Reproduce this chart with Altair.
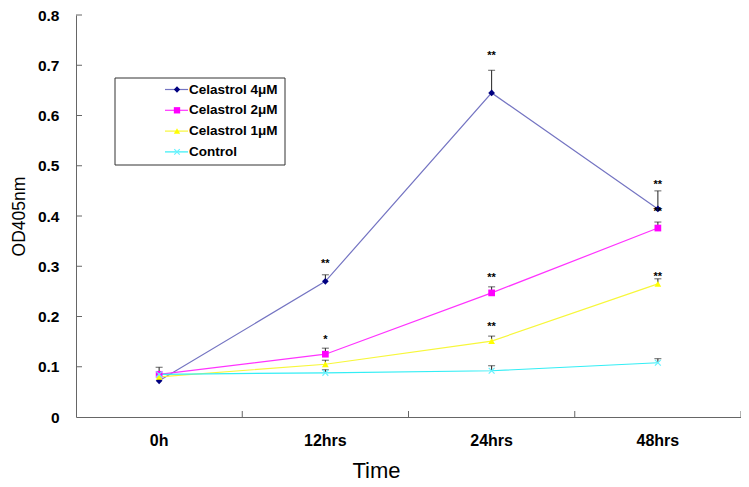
import altair as alt
import pandas as pd

times = ["0h", "12hrs", "24hrs", "48hrs"]
series = ["Celastrol 4μM", "Celastrol 2μM", "Celastrol 1μM", "Control"]

c4_val = [0.072, 0.270, 0.645, 0.414]
c4_err = [0.0, 0.013, 0.045, 0.036]
c2_val = [0.085, 0.125, 0.247, 0.376]
c2_err = [0.0, 0.012, 0.012, 0.012]
c1_val = [0.080, 0.105, 0.151, 0.265]
c1_err = [0.0, 0.008, 0.010, 0.010]
ct_val = [0.085, 0.088, 0.092, 0.108]
ct_err = [0.014, 0.006, 0.010, 0.008]

sig_time = ["12hrs", "24hrs", "48hrs", "12hrs", "24hrs", "48hrs", "24hrs", "48hrs"]
sig_y = [0.311, 0.724, 0.468, 0.159, 0.282, 0.413, 0.185, 0.284]
sig_txt = ["**", "**", "**", "*", "**", "**", "**", "**"]

y_ticks = [0, 0.1, 0.2, 0.3, 0.4, 0.5, 0.6, 0.7, 0.8]

line_colors = ["#7474c2", "#ff33ff", "#f7f73a", "#33eef5"]
marker_colors = ["#000080", "#ff00ff", "#ffff00", "#66f2ff"]
x_path = "M-1,-0.75L-0.75,-1L0,-0.25L0.75,-1L1,-0.75L0.25,0L1,0.75L0.75,1L0,0.25L-0.75,1L-1,0.75L-0.25,0Z"
shapes = ["diamond", "square", "triangle-up", x_path]

vals = [c4_val, c2_val, c1_val, ct_val]
errs = [c4_err, c2_err, c1_err, ct_err]
rows = []
for s, vs, es in zip(series, vals, errs):
    for t, v, e in zip(times, vs, es):
        rows.append({"time": t, "series": s, "value": v, "err": e, "hi": v + e})
df = pd.DataFrame(rows)
err_df = df[df["err"] > 0]
sig_df = pd.DataFrame({"time": sig_time, "y": sig_y, "txt": sig_txt})
leg_df = pd.DataFrame({"series": series, "row": list(range(len(series)))})
ytick_df = pd.DataFrame({"tick": y_ticks[1:]})
xtick_df = pd.DataFrame({"time": times})

W, H = 665, 402

x_axis = alt.Axis(labelAngle=0, ticks=False, grid=False, domainColor="#666666",
                  labelFontSize=16, labelFontWeight="bold", labelColor="#000000",
                  labelPadding=15, titleFontSize=22, titleFontWeight="normal",
                  titleColor="#000000", titleX=300, titleY=43, titleBaseline="top")
y_axis = alt.Axis(values=y_ticks, format=".1~f", ticks=False, grid=False,
                  domainColor="#666666", labelFontSize=15.5, labelFontWeight="bold",
                  labelColor="#000000", labelPadding=17, titleFontSize=17.5,
                  titleFontWeight="normal", titleColor="#000000", titlePadding=9)
x_scale = alt.Scale(type="band", domain=times, paddingInner=0, paddingOuter=0)
y_scale = alt.Scale(domain=[0, 0.8], nice=False)


def X(field="time:N", bp=0.5):
    return alt.X(field, scale=x_scale, axis=x_axis, title="Time", bandPosition=bp, sort=times)


def Y(field):
    return alt.Y(field, scale=y_scale, axis=y_axis, title="OD405nm")


stroke_enc = alt.Stroke("series:N", scale=alt.Scale(domain=series, range=line_colors), legend=None)
fill_enc = alt.Fill("series:N", scale=alt.Scale(domain=series, range=marker_colors), legend=None)
shape_enc = alt.Shape("series:N", scale=alt.Scale(domain=series, range=shapes), legend=None)

base = alt.Chart(df)

lines = base.transform_calculate(idx="indexof(['0h','12hrs','24hrs','48hrs'], datum.time)").mark_line(
    strokeWidth=1.2).encode(x=X(), y=Y("value:Q"), stroke=stroke_enc, order=alt.Order("idx:Q"))

err_rule = alt.Chart(err_df).mark_rule(color="#222222", strokeWidth=1).encode(
    x=X(), y=Y("value:Q"), y2="hi:Q")
err_cap = alt.Chart(err_df).mark_tick(color="#222222", thickness=1, size=7).encode(
    x=X(), y=Y("hi:Q"))

points = base.mark_point(filled=True, opacity=1, size=45).encode(
    x=X(), y=Y("value:Q"), fill=fill_enc, shape=shape_enc)

sig = alt.Chart(sig_df).mark_text(fontSize=11, fontWeight="bold", color="#000000",
                                  baseline="middle", dy=3).encode(
    x=X(), y=Y("y:Q"), text="txt:N")

ytick = alt.Chart(ytick_df).mark_rule(color="#666666", strokeWidth=1).encode(
    y=Y("tick:Q"), x=alt.value(0), x2=alt.value(6))
xtick = alt.Chart(xtick_df).mark_rule(color="#666666", strokeWidth=1).encode(
    x=X("time:N", 1), y=alt.value(H - 6), y2=alt.value(H))

leg_box = alt.Chart(pd.DataFrame({"a": [0]})).mark_rect(
    fill="white", stroke="#333333", strokeWidth=1).encode(
    x=alt.value(39), x2=alt.value(209), y=alt.value(63), y2=alt.value(150))

leg_base = alt.Chart(leg_df).transform_calculate(ly="74.5 + datum.row * 20.8")
leg_lines = leg_base.mark_rule(strokeWidth=1.2).encode(
    x=alt.value(89), x2=alt.value(112), y=alt.Y("ly:Q", scale=None), stroke=stroke_enc)
leg_pts = leg_base.mark_point(filled=True, opacity=1, size=40).encode(
    x=alt.value(101), y=alt.Y("ly:Q", scale=None), fill=fill_enc, shape=shape_enc)
leg_txt = leg_base.mark_text(align="left", baseline="middle", fontSize=13.5,
                             fontWeight="bold", color="#000000").encode(
    x=alt.value(113), y=alt.Y("ly:Q", scale=None), text="series:N")

chart = alt.layer(lines, err_rule, err_cap, points, sig, ytick, xtick,
                  leg_box, leg_lines, leg_pts, leg_txt).properties(
    width=W, height=H,
    autosize=alt.AutoSizeParams(type="none"),
    padding={"left": 68, "top": 7, "right": 0, "bottom": 68},
).configure(font="Liberation Sans").configure_view(strokeWidth=0)

chart.save("out.html", embed_options={"renderer": "svg", "actions": False})
